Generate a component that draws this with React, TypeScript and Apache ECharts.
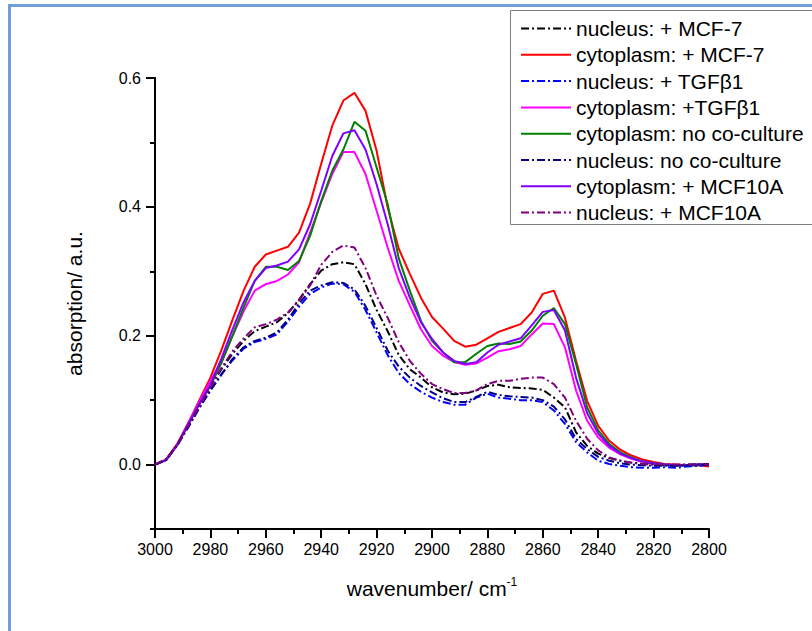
import React, { useEffect, useRef } from 'react';
import * as echarts from 'echarts';

// wavenumber (cm^-1), sampled every 4 cm^-1 from 3000 down to 2800
const wavenumbers = [
  3000, 2996, 2992, 2988, 2984, 2980, 2976, 2972, 2968, 2964, 2960, 2956, 2952, 2948, 2944, 2940, 2936,
  2932, 2928, 2924, 2920, 2916, 2912, 2908, 2904, 2900, 2896, 2892, 2888, 2884, 2880, 2876, 2872, 2868,
  2864, 2860, 2856, 2852, 2848, 2844, 2840, 2836, 2832, 2828, 2824, 2820, 2816, 2812, 2808, 2804, 2800,
];

const nucleusMCF7 = [
  0, 0.008, 0.03, 0.06, 0.09, 0.12, 0.148, 0.172, 0.192, 0.207, 0.214, 0.221, 0.235, 0.256, 0.28, 0.301, 0.311,
  0.314, 0.311, 0.28, 0.24, 0.207, 0.17, 0.148, 0.135, 0.12, 0.112, 0.109, 0.11, 0.115, 0.122, 0.124, 0.12, 0.119,
  0.118, 0.116, 0.104, 0.089, 0.05, 0.029, 0.017, 0.01, 0.006, 0.003, 0.001, 0, -0.001, -0.001, 0, 0, 0,
];
const cytoplasmMCF7 = [
  0, 0.008, 0.032, 0.064, 0.1, 0.135, 0.178, 0.225, 0.27, 0.307, 0.326, 0.332, 0.338, 0.36, 0.405, 0.467, 0.526,
  0.565, 0.577, 0.549, 0.487, 0.399, 0.335, 0.296, 0.259, 0.229, 0.211, 0.192, 0.183, 0.186, 0.196, 0.206, 0.212, 0.218,
  0.236, 0.265, 0.27, 0.228, 0.161, 0.099, 0.06, 0.037, 0.023, 0.014, 0.008, 0.004, 0.001, 0, -0.001, -0.001, -0.003,
];
const nucleusTGFb1 = [
  0, 0.007, 0.03, 0.058, 0.088, 0.115, 0.14, 0.162, 0.18, 0.19, 0.195, 0.202, 0.222, 0.245, 0.265, 0.275, 0.281,
  0.28, 0.268, 0.24, 0.205, 0.17, 0.142, 0.125, 0.113, 0.104, 0.097, 0.093, 0.093, 0.104, 0.11, 0.104, 0.102, 0.1,
  0.1, 0.097, 0.084, 0.063, 0.035, 0.019, 0.006, 0.001, -0.002, -0.004, -0.005, -0.005, -0.004, -0.005, -0.003, -0.002, 0,
];
const cytoplasmTGFb1 = [
  0, 0.007, 0.031, 0.065, 0.098, 0.13, 0.16, 0.2, 0.238, 0.27, 0.28, 0.285, 0.295, 0.314, 0.36, 0.407, 0.451,
  0.485, 0.485, 0.451, 0.394, 0.337, 0.285, 0.247, 0.21, 0.184, 0.169, 0.159, 0.155, 0.157, 0.166, 0.176, 0.179, 0.184,
  0.202, 0.219, 0.218, 0.182, 0.115, 0.068, 0.042, 0.026, 0.016, 0.009, 0.004, 0.001, 0, -0.001, -0.001, 0, 0,
];
const cytoplasmNoCoCulture = [
  0, 0.007, 0.03, 0.062, 0.094, 0.122, 0.158, 0.2, 0.244, 0.285, 0.307, 0.307, 0.302, 0.316, 0.355, 0.409, 0.456,
  0.489, 0.532, 0.518, 0.461, 0.404, 0.32, 0.27, 0.223, 0.192, 0.174, 0.159, 0.159, 0.172, 0.184, 0.188, 0.187, 0.191,
  0.208, 0.231, 0.243, 0.218, 0.156, 0.089, 0.053, 0.032, 0.019, 0.011, 0.005, 0.002, 0, -0.001, -0.002, -0.001, 0,
];
const nucleusNoCoCulture = [
  0, 0.007, 0.03, 0.058, 0.088, 0.115, 0.14, 0.164, 0.182, 0.192, 0.197, 0.205, 0.225, 0.25, 0.27, 0.278, 0.283,
  0.282, 0.272, 0.246, 0.212, 0.177, 0.152, 0.135, 0.122, 0.112, 0.103, 0.097, 0.097, 0.105, 0.113, 0.108, 0.106, 0.105,
  0.104, 0.1, 0.09, 0.07, 0.04, 0.024, 0.012, 0.006, 0.002, 0, -0.001, -0.002, -0.002, -0.002, -0.001, 0, 0,
];
const cytoplasmMCF10A = [
  0, 0.007, 0.03, 0.062, 0.094, 0.124, 0.165, 0.21, 0.252, 0.285, 0.305, 0.309, 0.315, 0.334, 0.373, 0.425, 0.479,
  0.514, 0.519, 0.489, 0.435, 0.373, 0.305, 0.259, 0.221, 0.195, 0.174, 0.161, 0.156, 0.159, 0.174, 0.186, 0.191, 0.196,
  0.216, 0.237, 0.24, 0.208, 0.135, 0.08, 0.048, 0.029, 0.017, 0.01, 0.005, 0.002, 0, -0.001, -0.001, 0, 0,
];
const nucleusMCF10A = [
  0, 0.008, 0.03, 0.06, 0.09, 0.12, 0.15, 0.176, 0.196, 0.213, 0.218, 0.225, 0.236, 0.255, 0.278, 0.31, 0.33,
  0.34, 0.337, 0.305, 0.262, 0.228, 0.19, 0.161, 0.141, 0.125, 0.117, 0.111, 0.111, 0.115, 0.125, 0.13, 0.13, 0.133,
  0.135, 0.135, 0.125, 0.104, 0.068, 0.04, 0.022, 0.011, 0.006, 0.003, 0.001, 0, 0, 0, 0, 0, 0,
];

const seriesNames = [
  'nucleus: + MCF-7',
  'cytoplasm: + MCF-7',
  'nucleus: + TGFβ1',
  'cytoplasm: +TGFβ1',
  'cytoplasm: no co-culture',
  'nucleus: no co-culture',
  'cytoplasm: + MCF10A',
  'nucleus: + MCF10A',
];
const seriesValues = [
  nucleusMCF7,
  cytoplasmMCF7,
  nucleusTGFb1,
  cytoplasmTGFb1,
  cytoplasmNoCoCulture,
  nucleusNoCoCulture,
  cytoplasmMCF10A,
  nucleusMCF10A,
];
const seriesColors = ['#000000', '#ff0000', '#0000ff', '#ff00ff', '#008000', '#000080', '#8000ff', '#800080'];
const seriesDashed = [true, false, true, false, false, true, false, true];

const yMajorTicks = [0, 0.2, 0.4, 0.6];
const yMinorTicks = [-0.1, 0.1, 0.3, 0.5];

const FONT = '"Liberation Sans", Arial, sans-serif';

export default function App() {
  const ref = useRef<HTMLDivElement>(null);

  useEffect(() => {
    document.body.style.margin = '0';
    if (!ref.current) return;
    const chart = echarts.init(ref.current, null, { renderer: 'svg' });

    const series = seriesNames.map((name, i) => ({
      name,
      type: 'line',
      data: wavenumbers.map((w, j) => [w, seriesValues[i][j]]),
      symbol: 'none',
      showSymbol: false,
      color: seriesColors[i],
      lineStyle: {
        color: seriesColors[i],
        width: 2,
        type: seriesDashed[i] ? [8, 3, 2, 3] : 'solid',
      },
      z: seriesDashed[i] ? 3 : 2,
    }));

    chart.setOption({
      animation: false,
      backgroundColor: '#ffffff',
      grid: { left: 155, right: 103, top: 78, bottom: 102 },
      xAxis: {
        type: 'value',
        inverse: true,
        min: 2800,
        max: 3000,
        interval: 20,
        name: '{a|wavenumber/ cm}{s|-1}',
        nameLocation: 'middle',
        nameGap: 47,
        nameTextStyle: {
          rich: {
            a: { fontSize: 21, fontFamily: FONT, color: '#000' },
            s: { fontSize: 12, fontFamily: FONT, color: '#000', verticalAlign: 'top', padding: [0, 0, 12, 0] },
          },
        },
        axisLine: { show: true, onZero: false, lineStyle: { color: '#000', width: 2 } },
        axisTick: { show: true, inside: false, length: 9, lineStyle: { color: '#000', width: 2 } },
        minorTick: { show: true, splitNumber: 2, length: 5, lineStyle: { color: '#000', width: 2 } },
        axisLabel: {
          color: '#000',
          fontSize: 16,
          fontFamily: FONT,
          margin: 12,
          formatter: (v: number) => String(v),
        },
        splitLine: { show: false },
      },
      yAxis: [
        {
          type: 'value',
          min: -0.1,
          max: 0.6,
          interval: 0.1,
          name: 'absorption/ a.u.',
          nameLocation: 'middle',
          nameGap: 70,
          nameTextStyle: { fontSize: 21, fontFamily: FONT, color: '#000' },
          axisLine: { show: true, onZero: false, lineStyle: { color: '#000', width: 2 } },
          axisTick: { show: true, length: 9, customValues: yMajorTicks, lineStyle: { color: '#000', width: 2 } },
          axisLabel: {
            color: '#000',
            fontSize: 16,
            fontFamily: FONT,
            margin: 14,
            customValues: yMajorTicks,
            formatter: (v: number) => v.toFixed(1),
          },
          splitLine: { show: false },
        },
        {
          type: 'value',
          min: -0.1,
          max: 0.6,
          interval: 0.1,
          position: 'left',
          offset: 0,
          axisLine: { show: true, onZero: false, lineStyle: { color: '#000', width: 2 } },
          axisTick: { show: true, length: 5, customValues: yMinorTicks, lineStyle: { color: '#000', width: 2 } },
          axisLabel: { show: false },
          splitLine: { show: false },
        },
      ],
      legend: {
        orient: 'vertical',
        left: 520,
        top: 18,
        itemWidth: 50,
        itemHeight: 14,
        itemGap: 5.3,
        padding: 0,
        data: seriesNames,
        itemStyle: { color: 'rgba(0,0,0,0)', borderColor: 'rgba(0,0,0,0)', borderWidth: 0 },
        textStyle: { fontSize: 21, fontFamily: FONT, color: '#000', lineHeight: 20 },
      },
      graphic: [
        {
          type: 'rect',
          silent: true,
          shape: { x: 9.5, y: 5.5, width: 900, height: 800 },
          style: { fill: 'none', stroke: '#6f9fd6', lineWidth: 3 },
        },
        {
          type: 'rect',
          silent: true,
          shape: { x: 510.5, y: 10.5, width: 400, height: 214 },
          style: { fill: 'none', stroke: '#808080', lineWidth: 1 },
        },
      ],
      series,
    });

    return () => chart.dispose();
  }, []);

  return <div ref={ref} style={{ width: 812, height: 631 }} />;
}
